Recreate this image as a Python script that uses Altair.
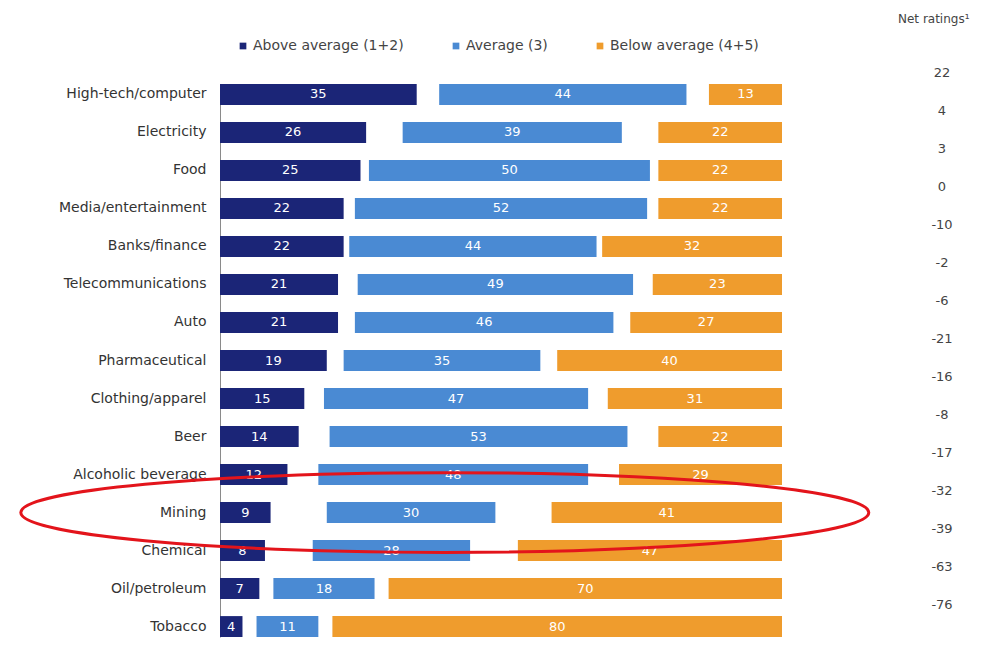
import altair as alt
import pandas as pd

industries = ["High-tech/computer", "Electricity", "Food", "Media/entertainment",
              "Banks/finance", "Telecommunications", "Auto", "Pharmaceutical",
              "Clothing/apparel", "Beer", "Alcoholic beverage", "Mining",
              "Chemical", "Oil/petroleum", "Tobacco"]
above = [35, 26, 25, 22, 22, 21, 21, 19, 15, 14, 12, 9, 8, 7, 4]
average = [44, 39, 50, 52, 44, 49, 46, 35, 47, 53, 48, 30, 28, 18, 11]
below = [13, 22, 22, 22, 32, 23, 27, 40, 31, 22, 29, 41, 47, 70, 80]
net = [22, 4, 3, 0, -10, -2, -6, -21, -16, -8, -17, -32, -39, -63, -76]

segments = ["Above average (1+2)", "Average (3)", "Below average (4+5)"]
colors = ["#1b2577", "#4a8ad3", "#ef9c2d"]

net_header = ["Net ratings\u00b9"]
highlight_industry = ["Mining"]
highlight_center = [40]

rows = []
for name, a, b, c in zip(industries, above, average, below):
    g = (100 - a - b - c) / 2
    rows.append({"industry": name, "segment": segments[0], "start": 0, "end": a, "val": a})
    rows.append({"industry": name, "segment": segments[1], "start": a + g, "end": a + g + b, "val": b})
    rows.append({"industry": name, "segment": segments[2], "start": 100 - c, "end": 100, "val": c})
seg_df = pd.DataFrame(rows)
seg_df["mid"] = (seg_df["start"] + seg_df["end"]) / 2

net_df = pd.DataFrame({"industry": industries, "label": [str(v) for v in net]})
head_df = pd.DataFrame({"t": net_header})
hl_df = pd.DataFrame({"industry": highlight_industry, "x": highlight_center})

FONT = "DejaVu Sans"

y_enc = alt.Y("industry:N", sort=industries,
              scale=alt.Scale(paddingInner=0.45, paddingOuter=0),
              axis=alt.Axis(title=None, ticks=False, labelPadding=14, labelFontSize=14,
                            labelColor="#333333", labelFont=FONT, domainColor="#8a8a8a",
                            domainWidth=1, labelLimit=300))
x_scale = alt.Scale(domain=[0, 100], nice=False, zero=True)

bars = alt.Chart(seg_df).mark_bar().encode(
    x=alt.X("start:Q", scale=x_scale, axis=None),
    x2="end:Q",
    y=y_enc,
    color=alt.Color("segment:N", sort=segments,
                    scale=alt.Scale(domain=segments, range=colors),
                    legend=alt.Legend(title=None, orient="none", legendX=16, legendY=-45,
                                      direction="horizontal", symbolType="square",
                                      symbolSize=45, symbolStrokeWidth=0,
                                      labelFontSize=14, labelFont=FONT, labelColor="#444444",
                                      labelOffset=3, columnPadding=45, padding=0,
                                      labelLimit=300)),
)

bar_text = alt.Chart(seg_df).mark_text(color="white", fontSize=13, font=FONT,
                                       baseline="middle", align="center").encode(
    x=alt.X("mid:Q", scale=x_scale, axis=None),
    y=alt.Y("industry:N", sort=industries),
    text="val:Q",
)

net_text = alt.Chart(net_df).mark_text(color="#444444", fontSize=13, font=FONT,
                                       baseline="middle", align="center", dy=-21.5).encode(
    x=alt.value(722),
    y=alt.Y("industry:N", sort=industries),
    text="label:N",
)

header = alt.Chart(head_df).mark_text(color="#444444", fontSize=12, font=FONT,
                                      baseline="middle", align="left").encode(
    x=alt.value(678), y=alt.value(-65), text="t:N")

ellipse_path = "M -1 0 A 1 0.094 0 1 1 1 0 A 1 0.094 0 1 1 -1 0 Z"
ellipse = alt.Chart(hl_df).mark_point(shape=ellipse_path, filled=False, color="#e3141b",
                                      strokeWidth=3, size=719104, opacity=1).encode(
    x=alt.X("x:Q", scale=x_scale, axis=None),
    y=alt.Y("industry:N", sort=industries),
)

chart = alt.layer(bars, bar_text, net_text, header, ellipse).properties(
    width=562, height=553,
    autosize=alt.AutoSizeParams(type="none"),
    padding={"left": 212, "top": 76, "right": 199, "bottom": 2},
    background="white",
).configure_view(stroke=None)

chart.save("out.html", embed_options={"renderer": "svg", "actions": False})
